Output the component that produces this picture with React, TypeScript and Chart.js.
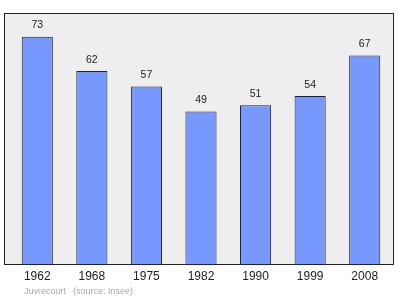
import React, { useEffect, useRef } from "react";
import { Chart, registerables } from "chart.js";

Chart.register(...registerables);

const years = ["1962", "1968", "1975", "1982", "1990", "1999", "2008"];
const population = [73, 62, 57, 49, 51, 54, 67];
const footerName = "Juvrecourt";
const footerSource = "(source: Insee)";

const FONT = "'Liberation Sans', Arial, sans-serif";

const framePlugin = {
  id: "frame",
  beforeDraw(chart: any) {
    const { ctx, chartArea } = chart;
    ctx.save();
    ctx.fillStyle = "#eeeeee";
    ctx.fillRect(4.5, 13.5, 389, chartArea.bottom - 13.5);
    ctx.strokeStyle = "#222";
    ctx.lineWidth = 1;
    ctx.strokeRect(4.5, 13.5, 389, Math.round(chartArea.bottom) - 13.5 + 0.5);
    ctx.restore();
  },
  afterDatasetsDraw(chart: any) {
    const { ctx } = chart;
    const meta = chart.getDatasetMeta(0);
    const xScale = chart.scales.x;
    ctx.save();
    ctx.fillStyle = "#222";
    ctx.textAlign = "center";
    ctx.font = `10.5px ${FONT}`;
    ctx.textBaseline = "bottom";
    meta.data.forEach((bar: any, i: number) => {
      ctx.fillText(String(population[i]), bar.x, bar.y - 6);
    });
    ctx.font = `12px ${FONT}`;
    ctx.textBaseline = "middle";
    years.forEach((y, i) => {
      ctx.fillText(y, xScale.getPixelForValue(i), 277);
    });
    ctx.font = `9px ${FONT}`;
    ctx.fillStyle = "#aaaaaa";
    ctx.textAlign = "left";
    ctx.fillText(footerName, 24, 292);
    ctx.fillText(footerSource, 73, 292);
    ctx.restore();
  },
};

export default function App() {
  const ref = useRef<HTMLCanvasElement | null>(null);
  useEffect(() => {
    if (!ref.current) return;
    const chart = new Chart(ref.current, {
      type: "bar",
      data: {
        labels: years,
        datasets: [
          {
            data: population,
            backgroundColor: "#7799ff",
            borderColor: "#222",
            borderWidth: 1,
            categoryPercentage: 1,
            barPercentage: 0.57,
          },
        ],
      },
      options: {
        responsive: false,
        animation: false,
        layout: { padding: { left: 10, right: 8, top: 15, bottom: 35 } },
        plugins: { legend: { display: false }, tooltip: { enabled: false } },
        scales: {
          x: { display: false },
          y: { display: false, min: 0, max: 80 },
        },
      },
      plugins: [framePlugin],
    });
    return () => chart.destroy();
  }, []);
  return (
    <div style={{ position: "fixed", left: 0, top: 0, width: 400, height: 299, background: "#fff" }}>
      <canvas ref={ref} width={400} height={299} />
    </div>
  );
}
